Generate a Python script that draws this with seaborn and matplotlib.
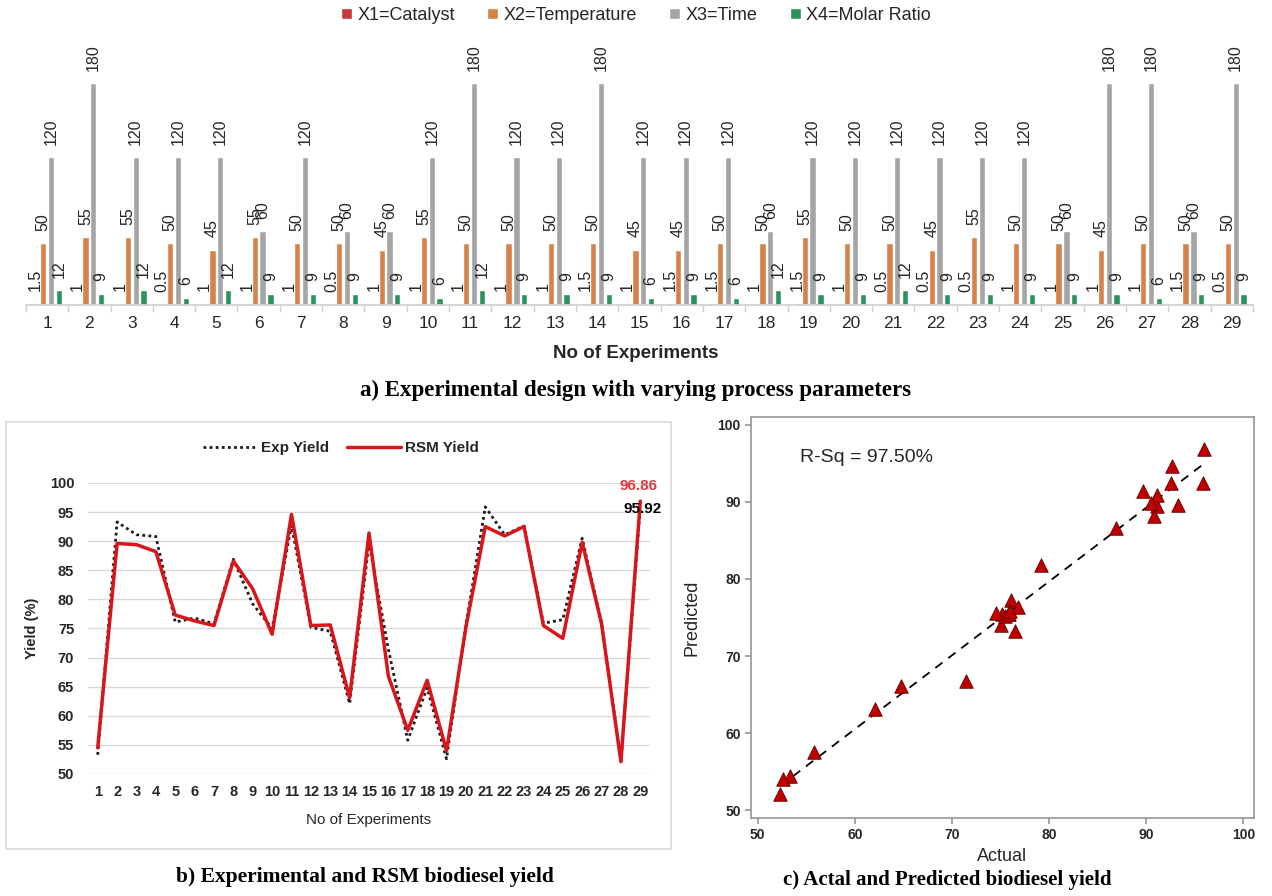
import numpy as np
import pandas as pd
import matplotlib
matplotlib.use("Agg")
import matplotlib.pyplot as plt
from matplotlib.patches import Rectangle
import seaborn as sns

# experimental design (29 runs)
runs = list(range(1, 30))
catalyst = [1.5, 1, 1, 0.5, 1, 1, 1, 0.5, 1, 1, 1, 1, 1, 1.5, 1, 1.5, 1.5, 1, 1.5, 1,
            0.5, 0.5, 0.5, 1, 1, 1, 1, 1.5, 0.5]
temperature = [50, 55, 55, 50, 45, 55, 50, 50, 45, 55, 50, 50, 50, 50, 45, 45, 50, 50, 55, 50,
               50, 45, 55, 50, 50, 45, 50, 50, 50]
time = [120, 180, 120, 120, 120, 60, 120, 60, 60, 120, 180, 120, 120, 180, 120, 120, 120, 60, 120, 120,
        120, 120, 120, 120, 60, 180, 180, 60, 180]
molar_ratio = [12, 9, 12, 6, 12, 9, 9, 9, 9, 6, 12, 9, 9, 9, 6, 9, 6, 12, 9, 9,
               12, 9, 9, 9, 9, 9, 6, 9, 9]
param_names = ["X1=Catalyst", "X2=Temperature", "X3=Time", "X4=Molar Ratio"]
param_colors = ["#E0202A", "#ED7D31", "#A5A5A5", "#1BA35A"]

# yields
exp_yield = [53.3, 93.3, 91.1, 90.8, 76.1, 76.8, 75.8, 86.9, 79.2, 75.0, 92.7, 75.2, 74.5, 62.1, 89.7,
             71.4, 55.8, 64.8, 52.6, 75.5, 95.9, 91.1, 92.6, 75.9, 76.5, 90.5, 76.0, 52.3, 95.92]
rsm_yield = [54.5, 89.6, 89.4, 88.2, 77.3, 76.3, 75.5, 86.6, 81.8, 74.0, 94.6, 75.5, 75.6, 63.1, 91.4,
             66.8, 57.5, 66.1, 54.0, 75.2, 92.5, 90.9, 92.5, 75.5, 73.3, 89.8, 75.8, 52.1, 96.86]

sns.set_theme(style="white")
plt.rcParams['font.family'] = ['Liberation Sans', 'DejaVu Sans']
txt = "#262626"

fig = plt.figure(figsize=(12.72, 8.96), dpi=100)

# ---- a) bar chart
df = pd.DataFrame({"run": [str(r) for r in runs] * 4,
                   "param": np.repeat(param_names, len(runs)),
                   "value": catalyst + temperature + time + molar_ratio})
ax1 = fig.add_axes([0.0204, 0.6596, 0.9646, 0.2958])
sns.barplot(data=df, x="run", y="value", hue="param", hue_order=param_names,
            palette=param_colors, width=0.74, gap=0.2, errorbar=None, ax=ax1)
for cont in ax1.containers:
    ax1.bar_label(cont, fmt="%g", rotation=90, padding=9, fontsize=11.5, color=txt)
ax1.set_xlim(-0.5, 28.5)
ax1.set_ylim(0, 215)
sns.despine(ax=ax1, left=True)
ax1.spines["bottom"].set_color("#D0D0D0")
ax1.set_yticks([])
ax1.set_ylabel("")
ax1.set_xlabel("")
ax1.set_xticks(np.arange(-0.5, 29, 1), minor=True)
ax1.tick_params(axis="x", which="major", length=0, labelsize=12.5, labelcolor=txt, pad=8)
ax1.tick_params(axis="x", which="minor", bottom=True, length=5, color="#D0D0D0", direction="out")
h, l = ax1.get_legend_handles_labels()
ax1.legend(h, l, loc="center", bbox_to_anchor=(0.5, 0.983), bbox_transform=fig.transFigure,
           ncol=4, frameon=False, handlelength=0.6, handleheight=0.6, handletextpad=0.3,
           columnspacing=1.8, fontsize=13)
fig.text(0.5, 0.606, "No of Experiments", ha="center", va="center", fontsize=13.5,
         fontweight="bold", color=txt)
fig.text(0.5, 0.5647, "a) Experimental design with varying process parameters", ha="center",
         va="center", fontsize=16.5, fontweight="bold", family="Liberation Serif", color="black")

# ---- b) line chart
fig.patches.append(Rectangle((0.0047, 0.0525), 0.5228, 0.4766, transform=fig.transFigure,
                             fill=False, edgecolor="#D9D9D9", lw=1.2))
ax2 = fig.add_axes([0.0692, 0.1362, 0.4418, 0.3248])
sns.lineplot(x=runs, y=exp_yield, color="#1a1a1a", lw=2, linestyle=(0, (1, 1.2)),
             label="Exp Yield", ax=ax2)
sns.lineplot(x=runs, y=rsm_yield, color="#D9151C", lw=2.5, label="RSM Yield", ax=ax2)
ax2.set_xlim(0.5, 29.5)
ax2.set_ylim(50, 100)
ax2.set_xticks(runs)
ax2.set_yticks(range(50, 101, 5))
ax2.yaxis.grid(True, color="#D9D9D9", lw=1)
ax2.set_axisbelow(True)
sns.despine(ax=ax2, left=True, bottom=True)
ax2.tick_params(length=0, labelsize=10.5, labelcolor=txt)
for t in ax2.get_xticklabels() + ax2.get_yticklabels():
    t.set_fontweight("bold")
ax2.tick_params(axis="x", pad=8)
ax2.tick_params(axis="y", pad=10)
ax2.set_xlabel("No of Experiments", fontsize=11, color=txt)
ax2.xaxis.set_label_coords(0.5, -0.135)
ax2.set_ylabel("Yield (%)", fontsize=10.5, fontweight="bold", color=txt)
ax2.yaxis.set_label_coords(-0.087, 0.5)
ax2.legend(loc="center", bbox_to_anchor=(0.268, 0.5), bbox_transform=fig.transFigure, ncol=2,
           frameon=False, handlelength=3.5, columnspacing=1.2, handletextpad=0.3,
           prop={"size": 11, "weight": "bold"})
ax2.annotate(f"{rsm_yield[-1]:.2f}", xy=(runs[-1], rsm_yield[-1]), xytext=(-1, 11),
             textcoords="offset points", ha="center", va="center", color="#E8363C",
             fontsize=11, fontweight="bold", annotation_clip=False)
ax2.annotate(f"{exp_yield[-1]:.2f}", xy=(runs[-1], exp_yield[-1]), xytext=(2, -1.5),
             textcoords="offset points", ha="center", va="center", color="black",
             fontsize=11, fontweight="bold", annotation_clip=False)
fig.text(0.287, 0.0212, "b) Experimental and RSM biodiesel yield", ha="center", va="center",
         fontsize=15.5, fontweight="bold", family="Liberation Serif", color="black")

# ---- c) actual vs predicted
ax3 = fig.add_axes([0.5904, 0.0871, 0.3954, 0.4475])
sns.regplot(x=exp_yield, y=rsm_yield, scatter=False, ci=None, color="black",
            line_kws={"ls": (0, (5, 4)), "lw": 1.3}, ax=ax3)
sns.scatterplot(x=exp_yield, y=rsm_yield, marker="^", s=95, color="#C00000",
                edgecolor="#600000", linewidth=0.6, ax=ax3, zorder=3)
ax3.set_xlim(49.3, 101.1)
ax3.set_ylim(49.0, 101.0)
ax3.set_xticks(range(50, 101, 10))
ax3.set_yticks(range(50, 101, 10))
for s in ax3.spines.values():
    s.set_color("#9A9A9A")
ax3.tick_params(bottom=True, left=True, length=4, color="#9A9A9A", labelsize=10, labelcolor=txt)
for t in ax3.get_xticklabels() + ax3.get_yticklabels():
    t.set_fontweight("bold")
ax3.set_xlabel("Actual", fontsize=13, color=txt)
ax3.xaxis.set_label_coords(0.5, -0.075)
ax3.set_ylabel("Predicted", fontsize=13, color=txt)
ax3.yaxis.set_label_coords(-0.101, 0.5)
ax3.text(54.3, 95.8, "R-Sq = 97.50%", fontsize=14, va="center", color=txt)
fig.text(0.7445, 0.0179, "c) Actal and Predicted biodiesel yield", ha="center", va="center",
         fontsize=15, fontweight="bold", family="Liberation Serif", color="black")

fig.savefig("out.png", dpi=100)
